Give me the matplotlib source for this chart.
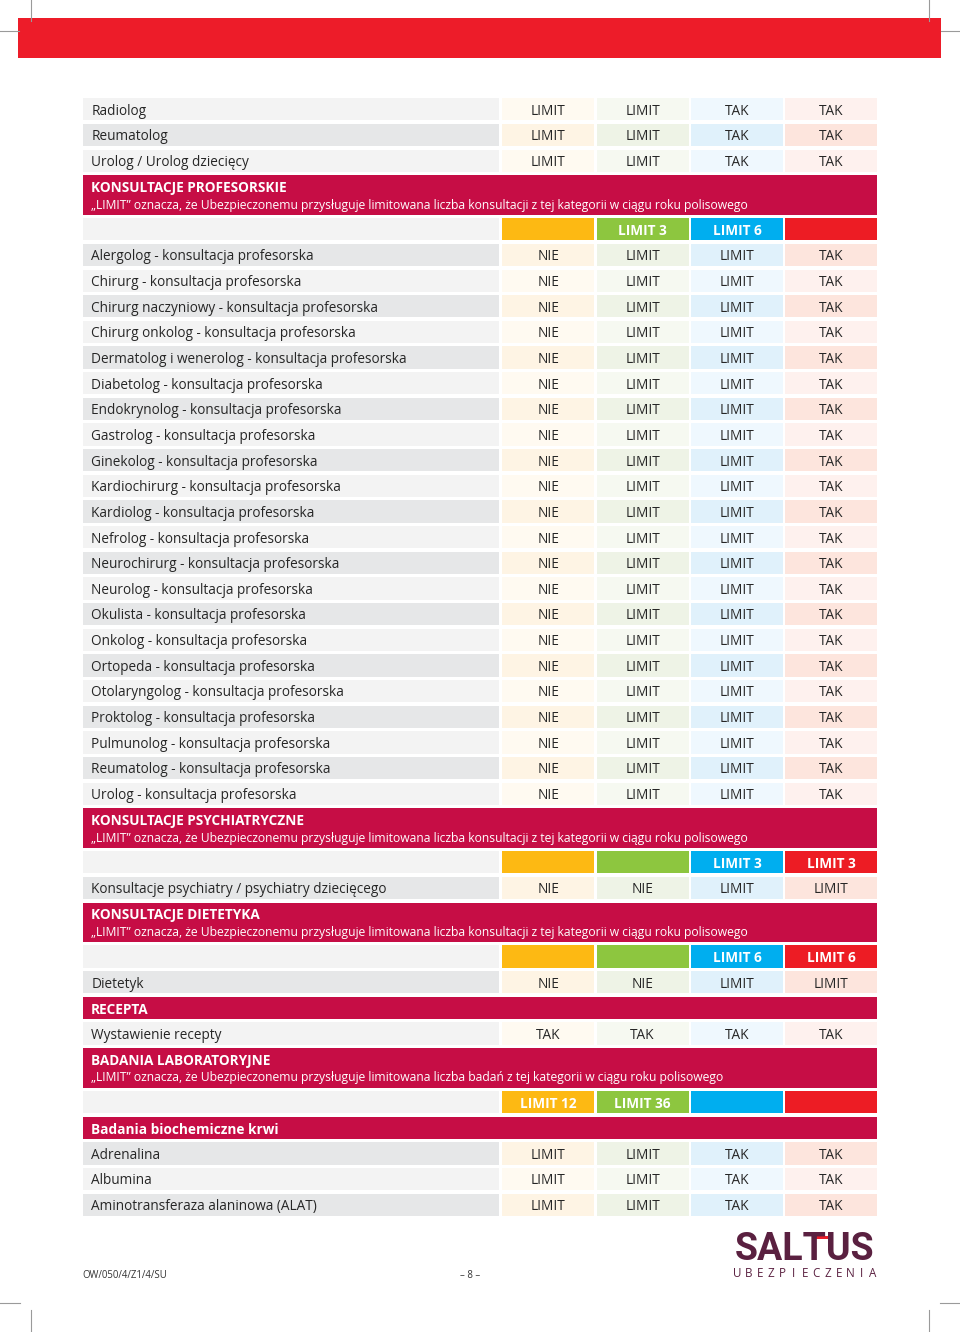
import matplotlib
matplotlib.use("Agg")
import matplotlib.pyplot as plt
from matplotlib.patches import Rectangle

# ---------------- data ----------------
top_rows = ["Radiolog", "Reumatolog", "Urolog / Urolog dziecięcy"]
top_vals = [["LIMIT", "LIMIT", "TAK", "TAK"]] * 3

prof_title = "KONSULTACJE PROFESORSKIE"
prof_note = "„LIMIT\u201d oznacza, że Ubezpieczonemu przysługuje limitowana liczba konsultacji z tej kategorii w ciągu roku polisowego"
prof_limits = ["", "LIMIT 3", "LIMIT 6", ""]
prof_rows = [
    "Alergolog - konsultacja profesorska",
    "Chirurg - konsultacja profesorska",
    "Chirurg naczyniowy - konsultacja profesorska",
    "Chirurg onkolog - konsultacja profesorska",
    "Dermatolog i wenerolog - konsultacja profesorska",
    "Diabetolog - konsultacja profesorska",
    "Endokrynolog - konsultacja profesorska",
    "Gastrolog - konsultacja profesorska",
    "Ginekolog - konsultacja profesorska",
    "Kardiochirurg - konsultacja profesorska",
    "Kardiolog - konsultacja profesorska",
    "Nefrolog - konsultacja profesorska",
    "Neurochirurg - konsultacja profesorska",
    "Neurolog - konsultacja profesorska",
    "Okulista - konsultacja profesorska",
    "Onkolog - konsultacja profesorska",
    "Ortopeda - konsultacja profesorska",
    "Otolaryngolog - konsultacja profesorska",
    "Proktolog - konsultacja profesorska",
    "Pulmunolog - konsultacja profesorska",
    "Reumatolog - konsultacja profesorska",
    "Urolog - konsultacja profesorska",
]
prof_vals = [["NIE", "LIMIT", "LIMIT", "TAK"]] * len(prof_rows)

psych_title = "KONSULTACJE PSYCHIATRYCZNE"
psych_note = prof_note
psych_limits = ["", "", "LIMIT 3", "LIMIT 3"]
psych_rows = ["Konsultacje psychiatry / psychiatry dziecięcego"]
psych_vals = [["NIE", "NIE", "LIMIT", "LIMIT"]]

diet_title = "KONSULTACJE DIETETYKA"
diet_note = prof_note
diet_limits = ["", "", "LIMIT 6", "LIMIT 6"]
diet_rows = ["Dietetyk"]
diet_vals = [["NIE", "NIE", "LIMIT", "LIMIT"]]

rec_title = "RECEPTA"
rec_rows = ["Wystawienie recepty"]
rec_vals = [["TAK", "TAK", "TAK", "TAK"]]

lab_title = "BADANIA LABORATORYJNE"
lab_note = "„LIMIT\u201d oznacza, że Ubezpieczonemu przysługuje limitowana liczba badań z tej kategorii w ciągu roku polisowego"
lab_limits = ["LIMIT 12", "LIMIT 36", "", ""]
lab_sub = "Badania biochemiczne krwi"
lab_rows = ["Adrenalina", "Albumina", "Aminotransferaza alaninowa (ALAT)"]
lab_vals = [["LIMIT", "LIMIT", "TAK", "TAK"]] * 3

footer_code = "OW/050/4/Z1/4/SU"
footer_page = "– 8 –"
logo_text = "SALTUS"
logo_sub = "UBEZPIECZENIA"

# ---------------- style ----------------
FONT = "Open Sans"
TXT = "#262626"
CRIMSON = "#C60D45"
RED = "#ED1C29"
LABEL_BG = ["#E6E7E8", "#F3F3F3"]          # dark, light
VAL_BG = [["#FEF4E4", "#EEF3E6", "#E0F1FB", "#FDE5DD"],
          ["#FFFAF1", "#F6F9F1", "#EFF8FE", "#FEF1EE"]]
STRONG = ["#FDB913", "#8DC63F", "#00AEEF", "#ED1C24"]

X0, LBL_R = 82.7, 499.4
COL_X = [502.3, 596.6, 690.9, 785.2]
COL_W = 92.0
X1 = COL_X[-1] + COL_W
PITCH = 25.66
CELL_H = 22.2
HEAD2_PITCH = 42.9
HEAD2_H = 39.5
FS = 9.8
DY = 1.8

fig = plt.figure(figsize=(9.6, 13.32), dpi=100)
ax = fig.add_axes([0, 0, 1, 1])
ax.set_xlim(0, 960)
ax.set_ylim(1332, 0)
ax.axis("off")

y = 98.3


def data_row(label, vals, shade):
    global y
    ax.add_patch(Rectangle((X0, y), LBL_R - X0, CELL_H, color=LABEL_BG[shade], lw=0))
    ax.text(X0 + 8.5, y + CELL_H / 2 + DY, label, fontsize=FS, family=FONT, color=TXT,
            va="center", ha="left")
    for j, v in enumerate(vals):
        ax.add_patch(Rectangle((COL_X[j], y), COL_W, CELL_H, color=VAL_BG[shade][j], lw=0))
        ax.text(COL_X[j] + COL_W / 2, y + CELL_H / 2 + DY, v, fontsize=FS, family=FONT,
                color=TXT, va="center", ha="center")
    y += PITCH


def rows_block(labels, vals, start):
    for i, (lab, v) in enumerate(zip(labels, vals)):
        data_row(lab, v, (i + start) % 2)


def head2(title, note):
    global y
    ax.add_patch(Rectangle((X0, y), X1 - X0, HEAD2_H, color=CRIMSON, lw=0))
    ax.text(X0 + 8.5, y + 12.8, title, fontsize=FS, family=FONT, weight="bold",
            color="white", va="center", ha="left")
    ax.text(X0 + 8.5, y + 29.8, note, fontsize=8.78, family=FONT, color="white",
            va="center", ha="left")
    y += HEAD2_PITCH


def head1(title):
    global y
    ax.add_patch(Rectangle((X0, y), X1 - X0, CELL_H, color=CRIMSON, lw=0))
    ax.text(X0 + 8.5, y + CELL_H / 2 + DY, title, fontsize=FS, family=FONT, weight="bold",
            color="white", va="center", ha="left")
    y += PITCH


def limits_row(labels):
    global y
    ax.add_patch(Rectangle((X0, y), LBL_R - X0, CELL_H, color=LABEL_BG[1], lw=0))
    for j, v in enumerate(labels):
        ax.add_patch(Rectangle((COL_X[j], y), COL_W, CELL_H, color=STRONG[j], lw=0))
        if v:
            ax.text(COL_X[j] + COL_W / 2, y + CELL_H / 2 + DY, v, fontsize=FS, family=FONT,
                    weight="bold", color="white", va="center", ha="center")
    y += PITCH


rows_block(top_rows, top_vals, 1)
head2(prof_title, prof_note)
limits_row(prof_limits)
rows_block(prof_rows, prof_vals, 0)
head2(psych_title, psych_note)
limits_row(psych_limits)
rows_block(psych_rows, psych_vals, 0)
head2(diet_title, diet_note)
limits_row(diet_limits)
rows_block(diet_rows, diet_vals, 0)
head1(rec_title)
rows_block(rec_rows, rec_vals, 1)
head2(lab_title, lab_note)
limits_row(lab_limits)
head1(lab_sub)
rows_block(lab_rows, lab_vals, 0)

# top red band
ax.add_patch(Rectangle((18.3, 18.3), 941 - 18.3, 40.2, color=RED, lw=0))

# crop marks
mk = dict(color="#9a9a9a", lw=0.8)
ax.plot([0, 19], [31, 31], **mk)
ax.plot([941, 960], [31, 31], **mk)
ax.plot([30.8, 30.8], [0, 21], **mk)
ax.plot([929.2, 929.2], [0, 21], **mk)
ax.plot([0, 20], [1302.5, 1302.5], **mk)
ax.plot([940, 960], [1302.5, 1302.5], **mk)
ax.plot([30.8, 30.8], [1310, 1332], **mk)
ax.plot([929.2, 929.2], [1310, 1332], **mk)

# footer
ax.text(82.5, 1275.5, footer_code, fontsize=6.9, family=FONT, color="#333333",
        va="center", ha="left")
ax.text(470, 1275.5, footer_page, fontsize=6.9, family=FONT, color="#333333",
        va="center", ha="center")

# logo
PURPLE = "#5A2040"
ax.text(804.5, 1250, logo_text, fontsize=27, family="Roboto", weight="bold",
        color=PURPLE, va="center", ha="center")
ax.add_patch(Rectangle((816, 1235.5), 12, 3.4, color=RED, lw=0))
n = len(logo_sub)
for i, ch in enumerate(logo_sub):
    xx = 737 + i * (873 - 737) / (n - 1)
    ax.text(xx, 1273.5, ch, fontsize=8.4, family=FONT, color=PURPLE,
            va="center", ha="center")

fig.savefig("out.png", dpi=100, facecolor="white")
